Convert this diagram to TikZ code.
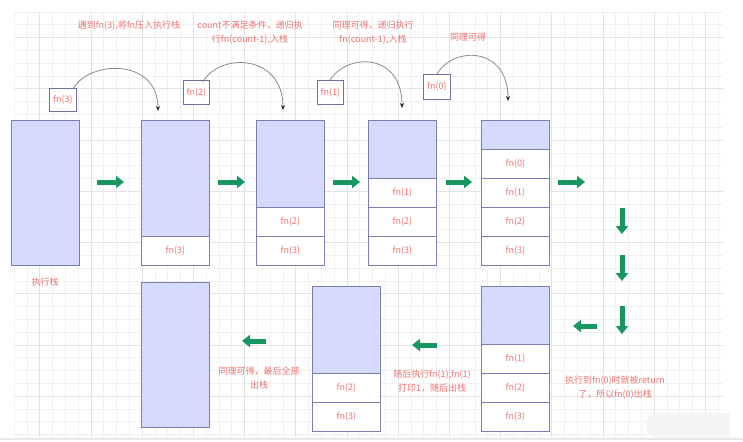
\documentclass[tikz,border=0pt]{standalone}
\usepackage{fontspec}
\setmainfont{Noto Sans CJK SC}
\usetikzlibrary{arrows.meta}
\definecolor{gridminor}{HTML}{F1F1F1}
\definecolor{gridmajor}{HTML}{E3E3E3}
\definecolor{stackline}{HTML}{7C7EB2}
\definecolor{fnline}{HTML}{70719E}
\definecolor{stackfill}{HTML}{D4DBFC}
\definecolor{txtred}{HTML}{F07272}
\definecolor{arrowgreen}{HTML}{16975F}
\definecolor{curvegray}{HTML}{8A8A8A}
\tikzset{
  stackbox/.style={draw=stackline, fill=stackfill, line width=0.9pt, minimum width=68pt, minimum height=145pt, anchor=north west, inner sep=0pt},
  cellbox/.style={draw=stackline, fill=white, line width=0.9pt, minimum width=68pt, minimum height=29pt, anchor=north west, inner sep=0pt, text=txtred, font=\fontsize{9}{11}\selectfont},
  fnbox/.style={draw=fnline, fill=white, line width=0.8pt, minimum width=27pt, minimum height=24pt, anchor=north west, inner sep=0pt, text=txtred, font=\fontsize{9}{11}\selectfont},
  note/.style={text=txtred, align=center, inner sep=0pt, font=\fontsize{9}{14}\selectfont},
  garrow/.style={draw=arrowgreen, line width=5pt, -{Triangle[width=12pt,length=8pt,color=arrowgreen]}},
  curvearrow/.style={draw=curvegray, line width=0.8pt, -{Stealth[length=5pt,width=4pt,color=black!85]}}
}
\begin{document}
\begin{tikzpicture}[x=1pt,y=-1pt]
\useasboundingbox (0,0) rectangle (743,441);
\fill[white] (0,0) rectangle (743,441);
% grid
\begin{scope}
\clip (14,12) rectangle (723,437);
\foreach \i in {0,...,56} { \draw[gridminor, line width=0.6pt] ({14+12.8*\i},12) -- ({14+12.8*\i},437); }
\foreach \j in {0,...,34} { \draw[gridminor, line width=0.6pt] (14,{12+12.8*\j}) -- (723,{12+12.8*\j}); }
\foreach \i in {2,6,...,54} { \draw[gridmajor, line width=0.6pt] ({14+12.8*\i},12) -- ({14+12.8*\i},437); }
\foreach \j in {2,6,...,34} { \draw[gridmajor, line width=0.6pt] (14,{12+12.8*\j}) -- (723,{12+12.8*\j}); }
\end{scope}
\fill[gray!18] (0,437.5) rectangle (743,439.5);
\fill[black!4, rounded corners=11pt] (646,413) rectangle (740,437);
\fill[white] (730,412) rectangle (743,437.4);

% row 1 stacks
\node[stackbox] (s1) at (11,120) {};
\node[stackbox] (s2) at (141,120) {};
\node[cellbox] (s2c3) at (141,236) {fn(3)};
\node[stackbox] (s3) at (256,120) {};
\node[cellbox] (s3c2) at (256,207) {fn(2)};
\node[cellbox] (s3c3) at (256,236) {fn(3)};
\node[stackbox] (s4) at (368,120) {};
\node[cellbox] (s4c1) at (368,178) {fn(1)};
\node[cellbox] (s4c2) at (368,207) {fn(2)};
\node[cellbox] (s4c3) at (368,236) {fn(3)};
\node[stackbox] (s5) at (481,120) {};
\node[cellbox] (s5c0) at (481,149) {fn(0)};
\node[cellbox] (s5c1) at (481,178) {fn(1)};
\node[cellbox] (s5c2) at (481,207) {fn(2)};
\node[cellbox] (s5c3) at (481,236) {fn(3)};

% row 2 stacks
\node[stackbox] (r3) at (481,286) {};
\node[cellbox] (r3c1) at (481,344) {fn(1)};
\node[cellbox] (r3c2) at (481,373) {fn(2)};
\node[cellbox] (r3c3) at (481,402) {fn(3)};
\node[stackbox] (r2) at (312,286) {};
\node[cellbox] (r2c2) at (312,373) {fn(2)};
\node[cellbox] (r2c3) at (312,402) {fn(3)};
\node[stackbox] (r1) at (141,282) {};

% small fn boxes
\node[fnbox, minimum height=23pt] (f3) at (49,88) {fn(3)};
\node[fnbox, minimum width=26pt] (f2) at (183,80) {fn(2)};
\node[fnbox, minimum width=26pt] (f1) at (317,80) {fn(1)};
\node[fnbox, minimum height=25pt] (f0) at (423,74) {fn(0)};

% curved arrows
\coordinate (e3) at (158,111);
\coordinate (e2) at (283,110);
\coordinate (e1) at (402,108);
\coordinate (e0) at (508,101);
\draw[curvearrow] ([xshift=-3pt]f3.north east) .. controls (90,60) and (158,58) .. (e3);
\draw[curvearrow] ([xshift=-7pt,yshift=-2pt]f2.north east) .. controls (220,52) and (283,54) .. (e2);
\draw[curvearrow] ([xshift=13pt]f1.north west) .. controls (347,53) and (402,52) .. (e1);
\draw[curvearrow] ([xshift=14pt]f0.north west) .. controls (453,46) and (508,46) .. (e0);

% green arrows
\coordinate (ga1) at (97,182);  \coordinate (gb1) at (124,182);
\coordinate (ga2) at (218,182); \coordinate (gb2) at (245,182);
\coordinate (ga3) at (333,182); \coordinate (gb3) at (360,182);
\coordinate (ga4) at (446,182); \coordinate (gb4) at (472,182);
\coordinate (ga5) at (558,182); \coordinate (gb5) at (585,182);
\coordinate (gd1a) at (622,208); \coordinate (gd1b) at (622,234);
\coordinate (gd2a) at (622,255); \coordinate (gd2b) at (622,281);
\coordinate (gd3a) at (622,306); \coordinate (gd3b) at (622,334);
\coordinate (gl1a) at (597,326); \coordinate (gl1b) at (573,326);
\coordinate (gl2a) at (437,345); \coordinate (gl2b) at (412,345);
\coordinate (gl3a) at (266,341); \coordinate (gl3b) at (242,341);
\foreach \a/\b in {ga1/gb1, ga2/gb2, ga3/gb3, ga4/gb4, ga5/gb5, gd1a/gd1b, gd2a/gd2b, gd3a/gd3b, gl1a/gl1b, gl2a/gl2b, gl3a/gl3b}
  \draw[garrow] (\a) -- (\b);

% notes
\node[note] (t1) at (129,26) {遇到fn(3),将fn压入执行栈};
\node[note] (t2) at (250,33) {count不满足条件，递归执\\行fn(count-1),入栈};
\node[note] (t3) at (373,33) {同理可得，递归执行\\fn(count-1),入栈};
\node[note] (t4) at (468,37) {同理可得};
\node[note] (t5) at (45,282) {执行栈};
\node[note] (t6) at (259,378) {同理可得，最后全部\\出栈};
\node[note] (t7) at (432,381) {随后执行fn(1),fn(1)\\打印1，随后出栈};
\node[note] (t8) at (615,388) {执行到fn(0)时就被return\\了，所以fn(0)出栈};
\end{tikzpicture}
\end{document}
